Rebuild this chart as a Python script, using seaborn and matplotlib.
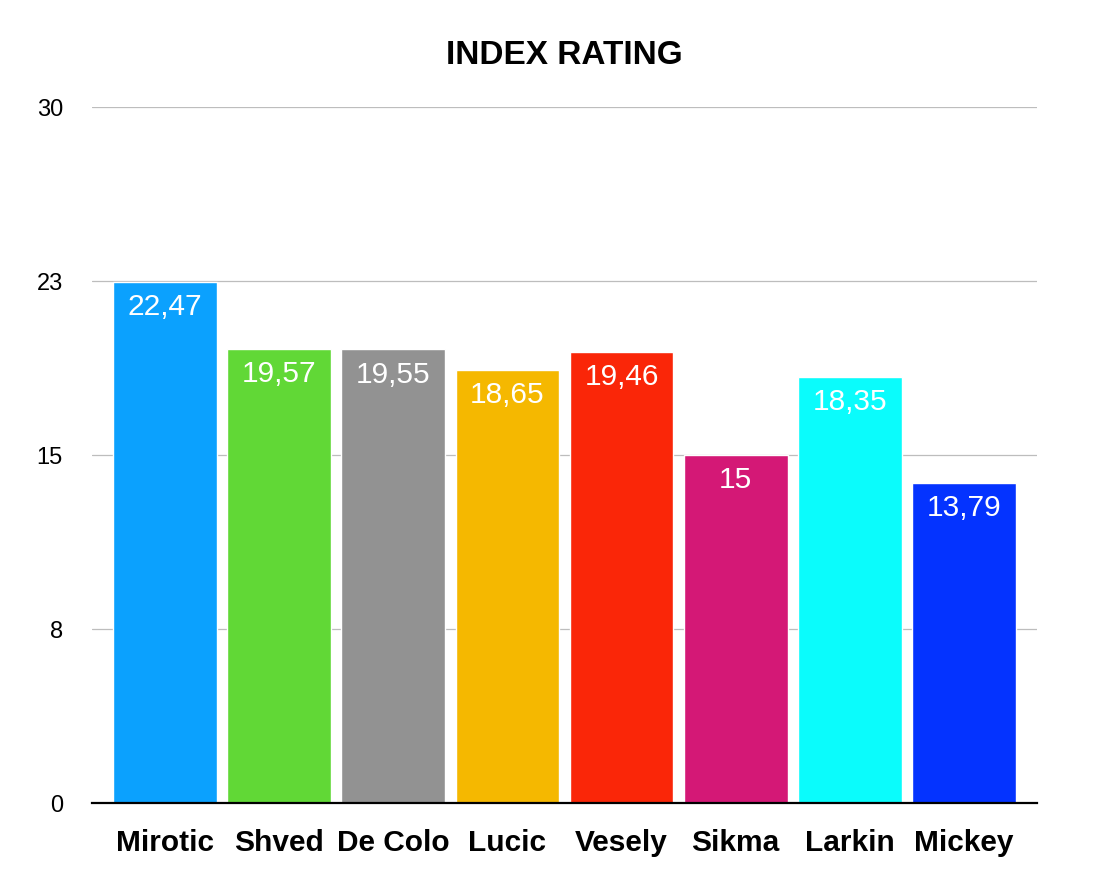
import matplotlib
matplotlib.use("Agg")
import matplotlib.pyplot as plt
import seaborn as sns
import pandas as pd

# data
players = ["Mirotic", "Shved", "De Colo", "Lucic", "Vesely", "Sikma", "Larkin", "Mickey"]
rating = [22.47, 19.57, 19.55, 18.65, 19.46, 15.0, 18.35, 13.79]
rating_text = ["22,47", "19,57", "19,55", "18,65", "19,46", "15", "18,35", "13,79"]
bar_colors = ["#0BA1FE", "#61D836", "#929292", "#F5B800", "#FA2608", "#D41876", "#0AFCFC", "#0433FF"]
ytick_pos = [0, 7.5, 15, 22.5, 30]
ytick_text = ["0", "8", "15", "23", "30"]

df = pd.DataFrame({"player": players, "rating": rating})

sns.set_theme(style="white")
plt.rcParams["font.family"] = ["Liberation Sans", "DejaVu Sans"]

fig = plt.figure(figsize=(11.12, 8.9), dpi=100)
ax = fig.add_axes([92 / 1112, 87 / 890, 945 / 1112, 696 / 890])

sns.barplot(
    data=df,
    x="player",
    y="rating",
    hue="player",
    palette=bar_colors,
    legend=False,
    width=0.91,
    saturation=1,
    ax=ax,
    zorder=3,
)

# value labels inside the top of each bar
for i, (v, t) in enumerate(zip(rating, rating_text)):
    ax.annotate(
        t,
        xy=(i, v),
        xytext=(0, -8),
        textcoords="offset points",
        ha="center",
        va="top",
        color="white",
        fontsize=21.5,
        zorder=4,
    )

ax.set_xlim(-0.64, len(players) - 1 + 0.64)
ax.set_ylim(0, 30)
ax.set_yticks(ytick_pos)
ax.set_yticklabels(ytick_text)
ax.yaxis.grid(True, color="#BDBDBD", linewidth=0.9, zorder=0)
ax.xaxis.grid(False)
ax.set_axisbelow(True)

for side in ["top", "right", "left"]:
    ax.spines[side].set_visible(False)
ax.spines["bottom"].set_color("black")
ax.spines["bottom"].set_linewidth(1.6)
ax.spines["bottom"].set_zorder(5)

ax.tick_params(axis="y", length=0, pad=21, labelsize=17, labelcolor="black")
ax.tick_params(axis="x", length=0, pad=19, labelsize=21.5, labelcolor="black")
for lab in ax.get_xticklabels():
    lab.set_fontweight("bold")

ax.set_xlabel("")
ax.set_ylabel("")
ax.set_title("INDEX RATING", fontsize=24, fontweight="bold", pad=31, color="black")

fig.savefig("out.png", dpi=100, facecolor="white")
